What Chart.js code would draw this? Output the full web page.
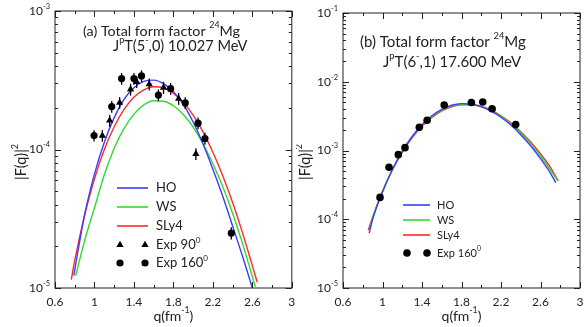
<!DOCTYPE html>
<html>
<head>
<meta charset="utf-8">
<script src="https://cdn.jsdelivr.net/npm/chart.js@4.4.1/dist/chart.umd.min.js"></script>
<style>
  html, body { margin: 0; padding: 0; background: #fff; }
  #wrap { position: relative; width: 584px; height: 327px; }
  canvas { position: absolute; top: 0; }
  #chartA { left: 0; }
  #chartB { left: 296px; }
</style>
</head>
<body>
<div id="wrap">
  <canvas id="chartA" width="296" height="327"></canvas>
  <canvas id="chartB" width="288" height="327"></canvas>
</div>
<script>
// ==================== DADOS (a) J=5-, 10.027 MeV ====================
const qHO_A   = [0.79, 0.9, 1.0, 1.1, 1.2, 1.3, 1.4, 1.5, 1.6, 1.7, 1.8, 1.9, 2.0, 2.1, 2.2, 2.3, 2.4, 2.5, 2.6];
const hoA     = [1.23e-5, 3.38e-5, 6.64e-5, 1.13e-4, 1.70e-4, 2.30e-4, 2.79e-4, 3.10e-4, 3.17e-4, 2.99e-4,
                 2.61e-4, 2.12e-4, 1.58e-4, 1.10e-4, 7.2e-5, 4.6e-5, 2.8e-5, 1.7e-5, 1.0e-5];
const qWS_A   = [0.81, 0.9, 1.0, 1.1, 1.2, 1.3, 1.4, 1.5, 1.6, 1.7, 1.8, 1.9, 2.0, 2.1, 2.2, 2.3, 2.4, 2.5, 2.6, 2.63];
const wsA     = [1.23e-5, 2.2e-5, 3.8e-5, 6.58e-5, 1.02e-4, 1.42e-4, 1.80e-4, 2.10e-4, 2.25e-4, 2.23e-4,
                 2.07e-4, 1.79e-4, 1.45e-4, 1.10e-4, 7.9e-5, 5.4e-5, 3.46e-5, 2.1e-5, 1.21e-5, 1.02e-5];
const qSL_A   = [0.765, 0.8, 0.9, 1.0, 1.1, 1.2, 1.3, 1.4, 1.5, 1.6, 1.7, 1.8, 1.9, 2.0, 2.1, 2.2, 2.3, 2.4, 2.5, 2.6, 2.65];
const slA     = [1.15e-5, 1.58e-5, 3.35e-5, 6.14e-5, 1.0e-4, 1.46e-4, 1.95e-4, 2.38e-4, 2.69e-4, 2.84e-4, 2.79e-4,
                 2.55e-4, 2.19e-4, 1.77e-4, 1.34e-4, 9.55e-5, 6.47e-5, 4.14e-5, 2.51e-5, 1.45e-5, 1.1e-5];

const qExp90  = [1.08, 1.154, 1.255, 1.366, 1.428, 1.555, 1.70, 1.853, 2.028];
const exp90   = [1.26e-4, 1.62e-4, 2.18e-4, 2.72e-4, 3.08e-4, 2.96e-4, 2.80e-4, 2.33e-4, 9.3e-5];
const err90   = [1.2e-5, 1.6e-5, 2.1e-5, 2.7e-5, 3.0e-5, 2.9e-5, 2.8e-5, 2.3e-5, 9e-6];
const qExp160A = [0.996, 1.175, 1.275, 1.40, 1.477, 1.648, 1.772, 1.92, 2.05, 2.12, 2.387];
const exp160A  = [1.26e-4, 2.04e-4, 3.25e-4, 3.25e-4, 3.40e-4, 2.47e-4, 2.75e-4, 2.17e-4, 1.55e-4, 1.20e-4, 2.49e-5];
const err160A  = [1.2e-5, 2.0e-5, 3.2e-5, 3.2e-5, 3.3e-5, 2.4e-5, 2.7e-5, 2.1e-5, 1.5e-5, 1.2e-5, 2.5e-6];

// ==================== DADOS (b) J=6-, 17.600 MeV ====================
const qHO_B   = [0.865, 0.9, 1.0, 1.1, 1.2, 1.3, 1.4, 1.5, 1.6, 1.7, 1.8, 1.9, 2.0, 2.1, 2.2, 2.3, 2.4, 2.5, 2.6, 2.7, 2.755];
const hoB     = [6.3e-5, 1.0e-4, 2.5e-4, 5.3e-4, 9.7e-4, 1.6e-3, 2.37e-3, 3.2e-3, 3.97e-3, 4.55e-3, 4.80e-3,
                 4.72e-3, 4.35e-3, 3.75e-3, 3.05e-3, 2.35e-3, 1.70e-3, 1.17e-3, 7.6e-4, 4.7e-4, 3.4e-4];
const qWS_B   = [0.87, 0.9, 1.0, 1.1, 1.2, 1.3, 1.4, 1.5, 1.6, 1.7, 1.8, 1.9, 2.0, 2.1, 2.2, 2.3, 2.4, 2.5, 2.6, 2.7, 2.77];
const wsB     = [7.0e-5, 1.05e-4, 2.52e-4, 5.25e-4, 9.6e-4, 1.57e-3, 2.32e-3, 3.12e-3, 3.86e-3, 4.43e-3, 4.71e-3,
                 4.68e-3, 4.35e-3, 3.80e-3, 3.13e-3, 2.44e-3, 1.80e-3, 1.26e-3, 8.3e-4, 5.25e-4, 3.7e-4];
const qSL_B   = [0.856, 0.9, 1.0, 1.1, 1.2, 1.3, 1.4, 1.5, 1.6, 1.7, 1.8, 1.9, 2.0, 2.1, 2.2, 2.3, 2.4, 2.5, 2.6, 2.7, 2.78];
const slB     = [7.0e-5, 1.07e-4, 2.55e-4, 5.2e-4, 9.4e-4, 1.53e-3, 2.26e-3, 3.03e-3, 3.76e-3, 4.33e-3, 4.62e-3,
                 4.63e-3, 4.36e-3, 3.85e-3, 3.20e-3, 2.52e-3, 1.88e-3, 1.33e-3, 8.9e-4, 5.7e-4, 3.6e-4];
const qExp160B = [0.975, 1.066, 1.16, 1.228, 1.373, 1.452, 1.625, 1.90, 2.015, 2.11, 2.349];
const exp160B  = [2.08e-4, 5.7e-4, 8.7e-4, 1.1e-3, 2.17e-3, 2.76e-3, 4.6e-3, 5.0e-3, 5.07e-3, 4.05e-3, 2.38e-3];

// ==================== EIXOS ====================
const xMajor = [0.6, 1.0, 1.4, 1.8, 2.2, 2.6, 3.0];
const xMinor = [0.8, 1.2, 1.6, 2.0, 2.4, 2.8];
const xTickLabels = ['0.6', '1', '1.4', '1.8', '2.2', '2.6', '3'];
const yExpA = [-5, -4, -3];
const yExpB = [-5, -4, -3, -2, -1];

const HO_COLOR = '#3b3bff', WS_COLOR = '#2fdc2f', SL_COLOR = '#ff2b2b';
const INK = '#222';
const FONT = 'Lato, "Open Sans", sans-serif';

function pts(xs, ys) {
  return xs.map((x, i) => ({ x: x, y: ys[i] }));
}

// texto com sobrescritos: parts = [[texto, sobrescrito?], ...]
function richText(ctx, parts, x, y, size, align) {
  const widths = parts.map(([t, sup]) => {
    ctx.font = (sup ? size * 0.62 : size) + 'px ' + FONT;
    return ctx.measureText(t).width;
  });
  const total = widths.reduce((a, b) => a + b, 0);
  let cx = align === 'right' ? x - total : align === 'center' ? x - total / 2 : x;
  ctx.textAlign = 'left';
  ctx.textBaseline = 'middle';
  parts.forEach(([t, sup], i) => {
    ctx.font = (sup ? size * 0.62 : size) + 'px ' + FONT;
    ctx.fillText(t, cx, sup ? y - size * 0.38 : y);
    cx += widths[i];
  });
}

// --- barras de erro ---
const errorBars = {
  id: 'errorBars',
  afterDatasetsDraw(chart) {
    const { ctx, scales: { y } } = chart;
    ctx.save();
    ctx.strokeStyle = '#000';
    ctx.lineWidth = 1.3;
    chart.data.datasets.forEach((ds, di) => {
      if (!ds.errors) return;
      const meta = chart.getDatasetMeta(di);
      meta.data.forEach((el, i) => {
        const v = ds.data[i].y, e = ds.errors[i];
        ctx.beginPath();
        ctx.moveTo(el.x, y.getPixelForValue(v + e));
        ctx.lineTo(el.x, y.getPixelForValue(v - e));
        ctx.stroke();
      });
    });
    ctx.restore();
  }
};

// --- moldura, ticks internos, rótulos, legenda ---
const deco = {
  id: 'deco',
  afterDraw(chart, args, o) {
    const { ctx, chartArea: a, scales: { x, y } } = chart;
    ctx.save();
    ctx.strokeStyle = INK;
    ctx.fillStyle = INK;
    ctx.lineWidth = 1;
    ctx.strokeRect(a.left, a.top, a.right - a.left, a.bottom - a.top);

    ctx.beginPath();
    xMajor.forEach(v => {
      const px = Math.round(x.getPixelForValue(v)) + 0.5;
      ctx.moveTo(px, a.bottom); ctx.lineTo(px, a.bottom - 6);
      ctx.moveTo(px, a.top); ctx.lineTo(px, a.top + 6);
    });
    xMinor.forEach(v => {
      const px = Math.round(x.getPixelForValue(v)) + 0.5;
      ctx.moveTo(px, a.bottom); ctx.lineTo(px, a.bottom - 3);
      ctx.moveTo(px, a.top); ctx.lineTo(px, a.top + 3);
    });
    o.yExp.forEach((ex, k) => {
      const py = Math.round(y.getPixelForValue(Math.pow(10, ex))) + 0.5;
      ctx.moveTo(a.left, py); ctx.lineTo(a.left + 6, py);
      ctx.moveTo(a.right, py); ctx.lineTo(a.right - 6, py);
      if (k === o.yExp.length - 1) return;
      for (let m = 2; m <= 9; m++) {
        const pm = Math.round(y.getPixelForValue(m * Math.pow(10, ex))) + 0.5;
        ctx.moveTo(a.left, pm); ctx.lineTo(a.left + 3, pm);
        ctx.moveTo(a.right, pm); ctx.lineTo(a.right - 3, pm);
      }
    });
    ctx.stroke();

    // rótulos dos ticks
    ctx.font = '12px ' + FONT;
    ctx.textAlign = 'center';
    ctx.textBaseline = 'middle';
    xMajor.forEach((v, i) => ctx.fillText(xTickLabels[i], x.getPixelForValue(v), a.bottom + 14));
    o.yExp.forEach(ex => {
      richText(ctx, [['10', false], [String(ex), true]], a.left - 5, y.getPixelForValue(Math.pow(10, ex)), 12, 'right');
    });

    // títulos dos eixos
    richText(ctx, [['q(fm', false], ['-1', true], [')', false]], (a.left + a.right) / 2, 316, 14, 'center');
    ctx.save();
    ctx.translate(o.yTitleX, 162);
    ctx.rotate(-Math.PI / 2);
    richText(ctx, [['|F(q)|', false], ['2', true]], 0, 0, 14.5, 'center');
    ctx.restore();

    // anotações
    o.notes.forEach(n => richText(ctx, n.parts, n.x, n.y, n.size, 'left'));

    // legenda
    const L = o.legend;
    L.items.forEach((it, i) => {
      const ly = L.rows[i];
      if (it.color) {
        ctx.strokeStyle = it.color;
        ctx.lineWidth = 1.6;
        ctx.beginPath();
        ctx.moveTo(L.x0, ly); ctx.lineTo(L.x1, ly);
        ctx.stroke();
      } else {
        ctx.fillStyle = '#000';
        [L.m0, L.m1].forEach(mx => Chart.helpers.drawPoint(ctx,
          { pointStyle: it.style, radius: it.r, rotation: 0, borderWidth: 0 }, mx, ly));
      }
      ctx.fillStyle = INK;
      richText(ctx, it.label, L.tx, ly, L.size, 'left');
    });
    ctx.restore();
  }
};

function curve(xs, ys, color) {
  return { data: pts(xs, ys), showLine: true, borderColor: color, borderWidth: 1.4,
           pointRadius: 0, cubicInterpolationMode: 'monotone', fill: false };
}
function expSet(xs, ys, style, r, errs) {
  return { data: pts(xs, ys), showLine: false, pointStyle: style, pointRadius: r,
           backgroundColor: '#000', borderColor: '#000', borderWidth: 0, errors: errs };
}

function makeChart(id, datasets, pad, yMin, yMax, decoOpts) {
  return new Chart(document.getElementById(id), {
    type: 'scatter',
    data: { datasets: datasets },
    options: {
      responsive: false,
      animation: false,
      layout: { padding: pad },
      scales: {
        x: { type: 'linear', min: 0.6, max: 3, display: false },
        y: { type: 'logarithmic', min: yMin, max: yMax, display: false }
      },
      plugins: { legend: { display: false }, tooltip: { enabled: false }, deco: decoOpts }
    },
    plugins: [errorBars, deco]
  });
}

// ==================== GRÁFICO (a) ====================
makeChart('chartA', [
  expSet(qExp90, exp90, 'triangle', 4.2, err90),
  expSet(qExp160A, exp160A, 'circle', 3.6, err160A),
  curve(qHO_A, hoA, HO_COLOR),
  curve(qWS_A, wsA, WS_COLOR),
  curve(qSL_A, slA, SL_COLOR)
], { left: 55, top: 11, right: 3, bottom: 39 }, 1e-5, 1e-3, {
  yExp: yExpA,
  yTitleX: 21,
  notes: [
    { x: 83, y: 31, size: 14.3, parts: [['(a) Total form factor ', false], ['24', true], ['Mg', false]] },
    { x: 113, y: 46, size: 14.6, parts: [['J', false], ['p', true], ['T(5', false], ['-', true], [',0) 10.027 MeV', false]] }
  ],
  legend: {
    x0: 117, x1: 148, tx: 156, m0: 120, m1: 145, size: 13,
    rows: [188, 207, 226, 245, 263],
    items: [
      { color: HO_COLOR, label: [['HO', false]] },
      { color: WS_COLOR, label: [['WS', false]] },
      { color: SL_COLOR, label: [['SLy4', false]] },
      { style: 'triangle', r: 4.2, label: [['Exp 90', false], ['0', true]] },
      { style: 'circle', r: 3.6, label: [['Exp 160', false], ['0', true]] }
    ]
  }
});

// ==================== GRÁFICO (b) ====================
makeChart('chartB', [
  expSet(qExp160B, exp160B, 'circle', 3.8, null),
  curve(qHO_B, hoB, HO_COLOR),
  curve(qWS_B, wsB, WS_COLOR),
  curve(qSL_B, slB, SL_COLOR)
], { left: 47, top: 13, right: 4, bottom: 39 }, 1e-5, 1e-1, {
  yExp: yExpB,
  yTitleX: 9,
  notes: [
    { x: 360, y: 42, size: 15, parts: [['(b) Total form factor ', false], ['24', true], ['Mg', false]] },
    { x: 383, y: 62, size: 15, parts: [['J', false], ['p', true], ['T(6', false], ['-', true], [',1) 17.600 MeV', false]] }
  ].map(n => Object.assign(n, { x: n.x - 296 })),
  legend: {
    x0: 107, x1: 134, tx: 141, m0: 111, m1: 131, size: 11,
    rows: [205, 220, 235, 253],
    items: [
      { color: HO_COLOR, label: [['HO', false]] },
      { color: WS_COLOR, label: [['WS', false]] },
      { color: SL_COLOR, label: [['SLy4', false]] },
      { style: 'circle', r: 3.8, label: [['Exp 160', false], ['0', true]] }
    ]
  }
});
</script>
</body>
</html>
